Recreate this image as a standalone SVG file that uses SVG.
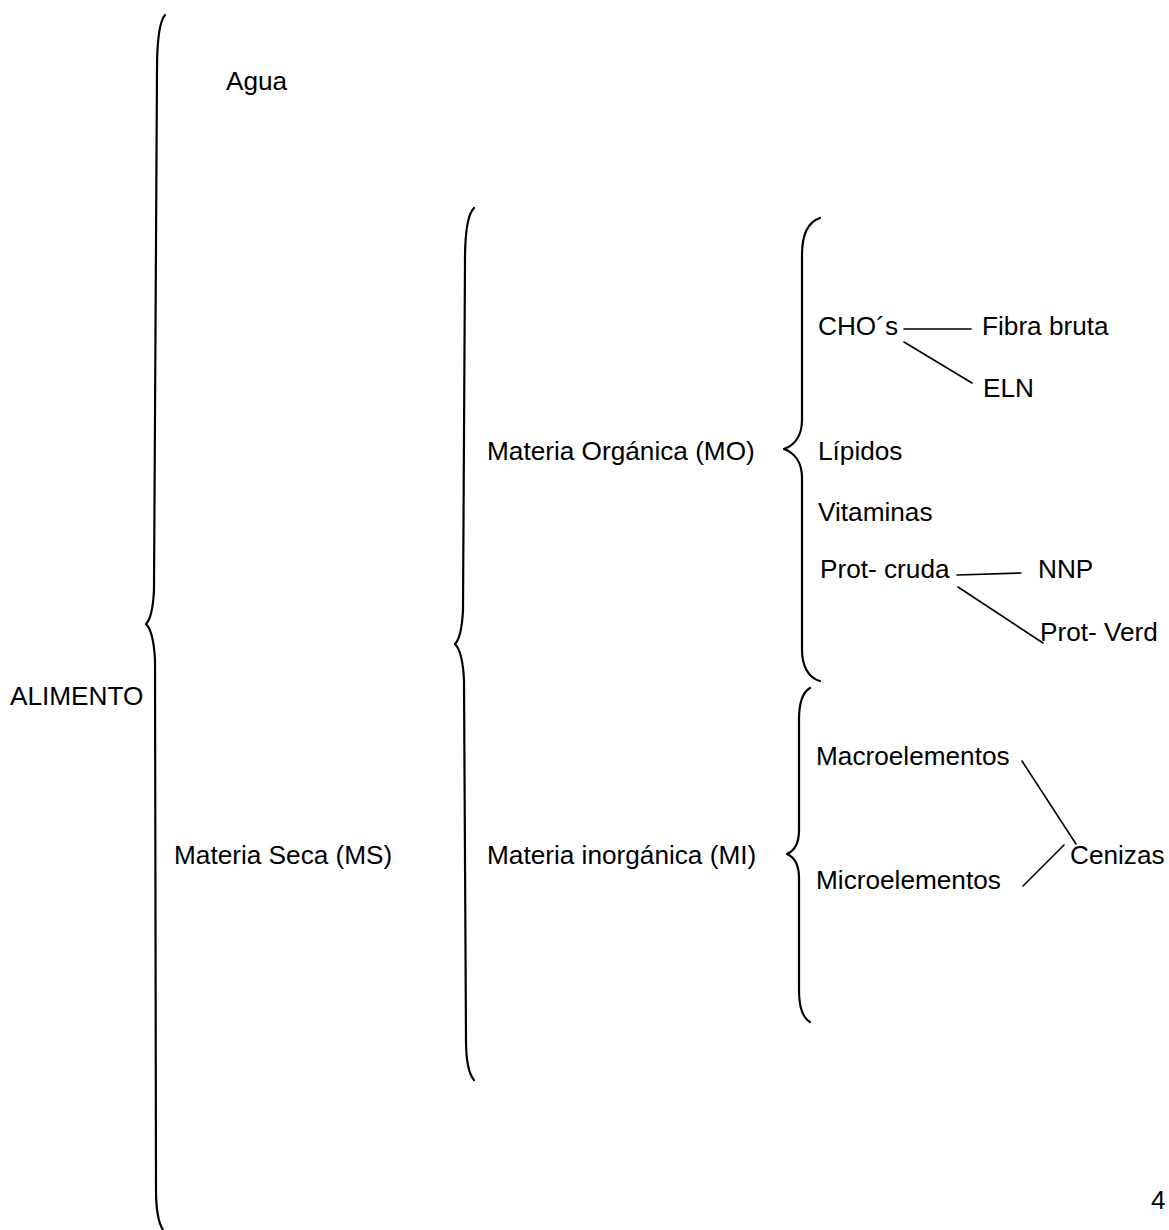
<svg xmlns="http://www.w3.org/2000/svg" width="1169" height="1230" viewBox="0 0 1169 1230">
<style>
.t{font-family:"Liberation Sans",Arial,sans-serif;font-size:26.2px;fill:#000}
.b{fill:none;stroke:#000;stroke-width:2.2;stroke-linecap:round;stroke-linejoin:round}
.c{fill:none;stroke:#000;stroke-width:1.6;stroke-linecap:round}
</style>
<rect width="1169" height="1230" fill="#fff"/>
<g id="braces">
<path class="b" d="M165,15 C159,22 157,40 157,70 L154,590 C153,610 150,620 146,624 C150,628 154,640 155,660 L156,1190 C156,1210 158,1222 163,1230"/>
<path class="b" d="M474,208 C468,214 465,230 465,260 L463,610 C462,630 459,640 455,644 C459,648 463,660 464,680 L466,1040 C466,1060 468,1073 474,1080"/>
<path class="b" d="M820,218 C808,222 802,235 802,255 L802,420 C802,435 795,445 784,449 C795,453 802,463 802,478 L802,650 C802,665 808,678 820,681"/>
<path class="b" d="M810,688 C803,692 799,702 799,720 L799,830 C799,845 794,851 787,854 C794,857 799,863 799,878 L799,990 C799,1008 803,1018 810,1022"/>
</g>
<g id="connectors">
<line class="c" x1="904" y1="329" x2="971" y2="329"/>
<line class="c" x1="904" y1="342" x2="972" y2="383"/>
<line class="c" x1="957" y1="575" x2="1021" y2="573"/>
<line class="c" x1="958" y1="587" x2="1043" y2="643"/>
<line class="c" x1="1022" y1="761" x2="1076" y2="844"/>
<line class="c" x1="1023" y1="886" x2="1064" y2="845"/>
</g>
<g id="n-alimento"><text class="t" x="10" y="705">ALIMENTO</text></g>
<g id="n-agua"><text class="t" x="226" y="90">Agua</text></g>
<g id="n-ms"><text class="t" x="174" y="864">Materia Seca (MS)</text></g>
<g id="n-mo"><text class="t" x="487" y="460">Materia Orgánica (MO)</text></g>
<g id="n-mi"><text class="t" x="487" y="864">Materia inorgánica (MI)</text></g>
<g id="n-cho"><text class="t" x="818" y="335">CHO´s</text></g>
<g id="n-fibra"><text class="t" x="982" y="335">Fibra bruta</text></g>
<g id="n-eln"><text class="t" x="983" y="397">ELN</text></g>
<g id="n-lipidos"><text class="t" x="818" y="460">Lípidos</text></g>
<g id="n-vitaminas"><text class="t" x="818" y="521">Vitaminas</text></g>
<g id="n-protcruda"><text class="t" x="820" y="578">Prot- cruda</text></g>
<g id="n-nnp"><text class="t" x="1038" y="578">NNP</text></g>
<g id="n-protverd"><text class="t" x="1040" y="641">Prot- Verd</text></g>
<g id="n-macro"><text class="t" x="816" y="765">Macroelementos</text></g>
<g id="n-micro"><text class="t" x="816" y="889">Microelementos</text></g>
<g id="n-cenizas"><text class="t" x="1070" y="864">Cenizas</text></g>
<g id="n-page"><text class="t" x="1151" y="1209">4</text></g>
</svg>
